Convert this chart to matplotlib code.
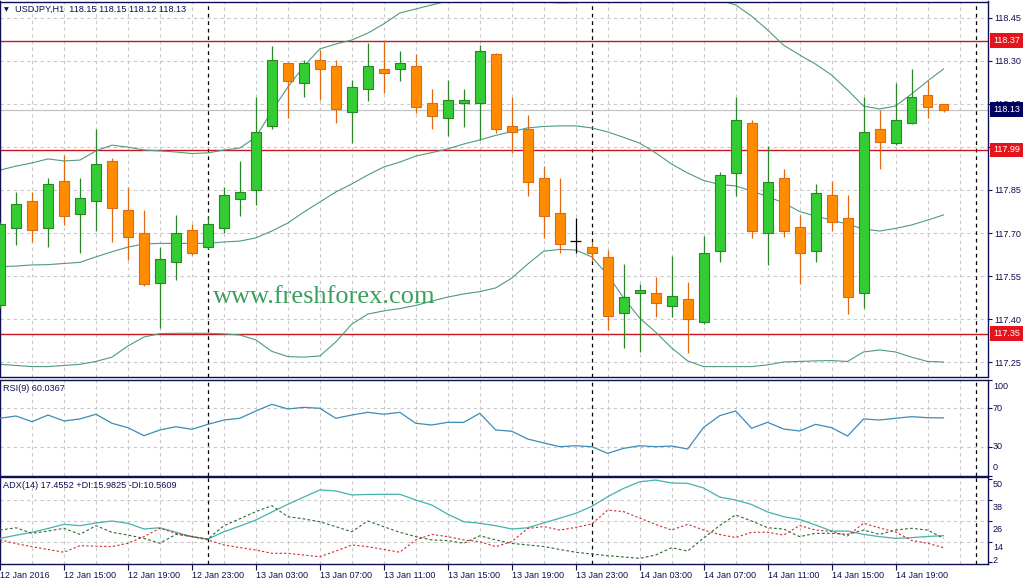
import numpy as np
import matplotlib
matplotlib.use("Agg")
import matplotlib.pyplot as plt
import matplotlib.transforms as mtransforms

plt.rcParams["font.family"] = ["Liberation Sans", "DejaVu Sans"]

# ---- data ----
opens = [117.449, 117.719, 117.810, 117.719, 117.881, 117.767, 117.810, 117.951, 117.780, 117.699,
         117.527, 117.600, 117.711, 117.650, 117.719, 117.819, 117.850, 118.072, 118.291, 118.221,
         118.302, 118.281, 118.120, 118.200, 118.270, 118.270, 118.281, 118.152, 118.099, 118.152,
         118.152, 118.323, 118.073, 118.061, 117.890, 117.769, 117.671, 117.650, 117.618, 117.421,
         117.490, 117.490, 117.447, 117.469, 117.389, 117.638, 117.910, 118.082, 117.699, 117.890,
         117.720, 117.638, 117.831, 117.751, 117.490, 118.061, 118.012, 118.082, 118.180, 118.150]
highs = [117.740, 117.842, 117.842, 117.890, 117.972, 117.890, 118.061, 117.960, 117.859, 117.780,
         117.650, 117.763, 117.731, 117.755, 117.859, 117.951, 118.175, 118.351, 118.295, 118.302,
         118.337, 118.302, 118.233, 118.360, 118.372, 118.334, 118.323, 118.200, 118.233, 118.200,
         118.355, 118.325, 118.175, 118.111, 117.933, 117.890, 117.751, 117.670, 117.641, 117.591,
         117.523, 117.548, 117.620, 117.531, 117.690, 117.912, 118.172, 118.093, 118.003, 117.922,
         117.762, 117.870, 117.881, 117.832, 118.175, 118.128, 118.221, 118.270, 118.230, 118.150]
lows = [117.440, 117.658, 117.670, 117.650, 117.728, 117.629, 117.708, 117.670, 117.606, 117.516,
        117.368, 117.536, 117.625, 117.645, 117.699, 117.760, 117.798, 118.062, 118.099, 118.172,
        118.163, 118.082, 118.012, 118.161, 118.188, 118.230, 118.119, 118.061, 118.038, 118.070,
        118.024, 118.049, 117.980, 117.830, 117.682, 117.629, 117.629, 117.603, 117.362, 117.299,
        117.287, 117.409, 117.409, 117.281, 117.385, 117.600, 117.829, 117.682, 117.590, 117.687,
        117.522, 117.600, 117.706, 117.418, 117.440, 117.922, 118.008, 118.078, 118.099, 118.120]
closes = [117.731, 117.800, 117.710, 117.870, 117.760, 117.821, 117.939, 117.788, 117.687, 117.522,
          117.609, 117.699, 117.629, 117.731, 117.831, 117.843, 118.051, 118.302, 118.230, 118.291,
          118.270, 118.131, 118.209, 118.281, 118.258, 118.291, 118.140, 118.108, 118.163, 118.163,
          118.334, 118.061, 118.051, 117.879, 117.760, 117.661, 117.671, 117.629, 117.411, 117.478,
          117.502, 117.457, 117.481, 117.400, 117.629, 117.902, 118.093, 117.708, 117.879, 117.708,
          117.629, 117.840, 117.739, 117.478, 118.051, 118.018, 118.093, 118.172, 118.140, 118.130]

bb_upper = [117.919, 117.933, 117.944, 117.958, 117.951, 117.954, 117.986, 118.006, 117.999, 117.989,
            117.986, 117.982, 117.977, 117.979, 117.989, 117.996, 118.034, 118.125, 118.208, 118.281,
            118.341, 118.358, 118.372, 118.396, 118.428, 118.466, 118.480, 118.494, 118.508, 118.532,
            118.546, 118.570, 118.563, 118.539, 118.504, 118.501, 118.502, 118.518, 118.549, 118.591,
            118.623, 118.602, 118.581, 118.563, 118.532, 118.511, 118.494, 118.455, 118.407, 118.354,
            118.320, 118.288, 118.250, 118.198, 118.142, 118.132, 118.142, 118.184, 118.229, 118.271]
bb_mid = [117.583, 117.585, 117.589, 117.590, 117.594, 117.598, 117.617, 117.635, 117.651, 117.662,
          117.664, 117.664, 117.664, 117.664, 117.669, 117.672, 117.683, 117.707, 117.735, 117.773,
          117.808, 117.843, 117.871, 117.902, 117.930, 117.947, 117.968, 117.980, 117.993, 118.010,
          118.024, 118.040, 118.053, 118.066, 118.071, 118.073, 118.073, 118.066, 118.052, 118.033,
          118.013, 117.979, 117.940, 117.909, 117.883, 117.869, 117.864, 117.846, 117.827, 117.805,
          117.775, 117.759, 117.745, 117.731, 117.714, 117.707, 117.716, 117.728, 117.745, 117.763]
bb_lower = [117.243, 117.239, 117.235, 117.235, 117.239, 117.243, 117.253, 117.268, 117.307, 117.338,
            117.350, 117.351, 117.351, 117.351, 117.349, 117.345, 117.328, 117.288, 117.270, 117.268,
            117.272, 117.321, 117.383, 117.418, 117.429, 117.437, 117.448, 117.463, 117.477, 117.488,
            117.496, 117.509, 117.543, 117.592, 117.637, 117.643, 117.641, 117.617, 117.554, 117.474,
            117.404, 117.355, 117.300, 117.255, 117.235, 117.235, 117.235, 117.235, 117.241, 117.251,
            117.253, 117.255, 117.256, 117.253, 117.286, 117.293, 117.286, 117.268, 117.253, 117.251]

rsi = [59.6, 62.0, 56.0, 63.0, 56.8, 58.9, 63.8, 54.4, 49.8, 41.5,
       47.4, 50.8, 48.1, 53.3, 57.8, 59.6, 67.2, 74.2, 69.3, 71.0,
       70.0, 59.6, 63.0, 65.8, 63.8, 65.8, 54.4, 52.6, 55.4, 55.4,
       64.8, 47.4, 46.1, 38.0, 33.9, 30.0, 31.0, 30.0, 23.1, 28.3,
       31.0, 30.0, 30.7, 27.6, 50.2, 62.3, 67.2, 49.2, 55.4, 48.4,
       46.4, 53.3, 49.8, 41.1, 58.9, 57.8, 59.6, 61.3, 60.2, 60.04]

adx = [15.9, 17.7, 19.4, 21.6, 24.0, 23.2, 24.8, 25.9, 24.6, 21.3,
       22.0, 19.4, 16.9, 15.5, 19.7, 23.0, 26.5, 31.1, 35.5, 39.7,
       43.8, 43.2, 40.9, 41.2, 41.3, 41.3, 38.0, 35.1, 29.8, 25.5,
       24.6, 23.2, 21.3, 22.0, 24.8, 27.5, 30.3, 34.3, 39.9, 44.7,
       48.5, 49.5, 47.8, 47.6, 44.9, 39.7, 38.0, 35.4, 31.1, 28.4,
       26.8, 23.6, 20.1, 20.1, 18.2, 16.9, 15.9, 16.3, 17.0, 17.46]
plus_di = [20.7, 22.0, 18.8, 20.1, 21.7, 18.2, 23.2, 19.4, 17.8, 15.9,
           13.1, 18.2, 16.9, 15.5, 23.2, 27.2, 31.3, 34.7, 28.4, 27.1,
           25.5, 22.6, 19.7, 25.9, 22.6, 19.4, 16.9, 15.0, 14.6, 13.1,
           17.4, 15.0, 13.0, 12.1, 11.2, 9.5, 7.9, 6.9, 5.9, 5.2,
           4.4, 6.3, 10.5, 8.6, 16.1, 23.3, 29.4, 25.9, 22.0, 21.3,
           16.9, 18.8, 18.8, 18.2, 20.7, 18.2, 20.7, 21.7, 20.7, 15.98]
minus_di = [15.0, 12.9, 11.1, 9.5, 7.9, 11.7, 11.4, 11.1, 13.1, 16.9,
            21.7, 18.8, 16.9, 15.0, 12.1, 10.6, 9.2, 7.3, 7.3, 6.3,
            5.3, 8.6, 12.1, 11.1, 9.5, 7.9, 15.0, 18.2, 16.9, 15.0,
            14.0, 11.1, 14.0, 21.6, 22.7, 20.7, 22.2, 24.2, 32.2, 31.3,
            27.6, 23.9, 20.7, 24.0, 20.7, 18.1, 16.4, 19.4, 19.4, 17.8,
            23.3, 20.7, 19.9, 17.3, 24.6, 21.9, 19.6, 14.7, 13.1, 10.56]

time_label_bars = [0, 4, 8, 12, 16, 20, 24, 28, 32, 36, 40, 44, 48, 52, 56]
time_labels = ["12 Jan 2016", "12 Jan 15:00", "12 Jan 19:00", "12 Jan 23:00",
               "13 Jan 03:00", "13 Jan 07:00", "13 Jan 11:00", "13 Jan 15:00",
               "13 Jan 19:00", "13 Jan 23:00", "14 Jan 03:00", "14 Jan 07:00",
               "14 Jan 11:00", "14 Jan 15:00", "14 Jan 19:00"]
day_separators = [13, 37, 61]
price_ticks = [117.25, 117.40, 117.55, 117.70, 117.85, 118.00, 118.15, 118.30, 118.45]
red_levels = [118.37, 117.99, 117.35]
last_price = 118.13
rsi_levels = [30, 70]
rsi_ticks = [0, 30, 70, 100]
adx_ticks = [2, 14, 26, 38, 50]

# ---- styling ----
NAVY = "#0e0e52"
GRID = "#c9c9c9"
BAND = "#4f9a80"
UP_FILL, UP_EDGE = "#33cc33", "#2a862a"
DN_FILL, DN_EDGE = "#ff8c00", "#dd6a10"
W, H = 1029, 585
RIGHT = 987.5


def box(top, bottom):
    return [0, 1 - bottom / H, RIGHT / W, (bottom - top) / H]


fig = plt.figure(figsize=(W / 100, H / 100), dpi=100)
ax = fig.add_axes(box(1.5, 376.5))
ax_rsi = fig.add_axes(box(379.5, 475.5), sharex=ax)
ax_adx = fig.add_axes(box(477.0, 563.5), sharex=ax)

x = np.arange(len(closes))
o, h, l, c = map(np.array, (opens, highs, lows, closes))

for a in (ax, ax_rsi, ax_adx):
    for s in a.spines.values():
        s.set_color(NAVY)
        s.set_linewidth(1.0)
    for gx in range(2, 62, 2):
        a.axvline(gx, color=GRID, lw=0.8, ls=(0, (3, 3)), zorder=0)
    for sx in day_separators:
        a.axvline(sx, color="black", lw=0.9, ls=(0, (3, 3)), zorder=1)
    a.yaxis.tick_right()
    a.tick_params(axis="y", length=3, width=0.8, color=NAVY, labelcolor=NAVY,
                  labelsize=6.5, pad=2)
    a.tick_params(axis="x", length=0, labelbottom=False)

ax.set_xlim(0.5 / 16, 988 / 16)

# ---- main price panel ----
ax.set_ylim(117.2006, 118.506)
ax.set_yticks(price_ticks, labels=[f"{p:.2f}" for p in price_ticks])
for p in price_ticks:
    ax.axhline(p, color=GRID, lw=0.8, ls=(0, (3, 3)), zorder=0)
ax.axhline(last_price, color="#c4c4c4", lw=0.9, zorder=0.5)
for p in red_levels:
    ax.axhline(p, color="#c8161e", lw=1.0, zorder=1)

ax.plot(x, bb_upper, color=BAND, lw=0.8, zorder=2)
ax.plot(x, bb_mid, color=BAND, lw=0.8, zorder=2)
ax.plot(x, bb_lower, color=BAND, lw=0.8, zorder=2)

up, dn, dj = c > o, c < o, c == o
ax.vlines(x[up], l[up], h[up], color=UP_EDGE, lw=0.9, zorder=3)
ax.vlines(x[dn], l[dn], h[dn], color=DN_EDGE, lw=0.9, zorder=3)
ax.vlines(x[dj], l[dj], h[dj], color="black", lw=0.9, zorder=3)
ax.bar(x[up], (c - o)[up], bottom=o[up], width=0.62, color=UP_FILL,
       edgecolor=UP_EDGE, lw=0.8, zorder=4)
ax.bar(x[dn], (o - c)[dn], bottom=c[dn], width=0.62, color=DN_FILL,
       edgecolor=DN_EDGE, lw=0.8, zorder=4)
ax.hlines(c[dj], x[dj] - 0.34, x[dj] + 0.34, color="black", lw=0.9, zorder=4)

lab = mtransforms.blended_transform_factory(ax.transAxes, ax.transData)
for p in red_levels:
    ax.text(993 / RIGHT, p, f"{p:.2f}", transform=lab, va="center", ha="left",
            fontsize=6.5, color="white", zorder=10, clip_on=False,
            bbox=dict(boxstyle="square,pad=0.3", fc="#e3141c", ec="none"))
ax.text(993 / RIGHT, last_price, f"{last_price:.2f}", transform=lab, va="center",
        ha="left", fontsize=6.5, color="white", zorder=10, clip_on=False,
        bbox=dict(boxstyle="square,pad=0.3", fc="#00005e", ec="none"))

ax.text(4 / RIGHT, 0.979, "\u25bc", transform=ax.transAxes, fontsize=4.5,
        color=NAVY, va="center", ha="left", family="DejaVu Sans")
ax.text(15 / RIGHT, 0.979, "USDJPY,H1  118.15 118.15 118.12 118.13",
        transform=ax.transAxes, fontsize=6.6, color=NAVY, va="center", ha="left")
ax.text(213 / RIGHT, 0.196, "www.freshforex.com", transform=ax.transAxes,
        fontsize=19, color="#3c9f5c", family="Liberation Serif",
        va="baseline", ha="left", zorder=5)

# ---- RSI panel ----
ax_rsi.set_ylim(0, 100)
ax_rsi.set_yticks(rsi_ticks, labels=[""] * len(rsi_ticks))
for lv in rsi_levels:
    ax_rsi.axhline(lv, color=GRID, lw=0.8, ls=(0, (3, 3)), zorder=0)
ax_rsi.plot(x, rsi, color="#3b8cb6", lw=0.9, zorder=3)
rt = mtransforms.blended_transform_factory(ax_rsi.transAxes, ax_rsi.transData)
for v, s in zip([92.5, 70, 30, 8.5], ["100", "70", "30", "0"]):
    ax_rsi.text(993 / RIGHT, v, s, transform=rt, fontsize=6.5, color=NAVY,
                va="center", ha="left", clip_on=False)
ax_rsi.text(3 / RIGHT, 0.908, "RSI(9) 60.0367", transform=ax_rsi.transAxes,
            fontsize=6.6, color=NAVY, va="center", ha="left")

# ---- ADX panel ----
ax_adx.set_ylim(1.42, 51.25)
ax_adx.set_yticks(adx_ticks, labels=[""] * len(adx_ticks))
for g in adx_ticks[1:4]:
    ax_adx.axhline(g, color=GRID, lw=0.8, ls=(0, (3, 3)), zorder=0)
ax_adx.plot(x, adx, color="#45b2ac", lw=0.9, zorder=3)
ax_adx.plot(x, plus_di, color="#2f6b2f", lw=0.8, ls=(0, (2.5, 2)), zorder=3)
ax_adx.plot(x, minus_di, color="#d02a2a", lw=0.8, ls=(0, (2, 2)), zorder=3)
at = mtransforms.blended_transform_factory(ax_adx.transAxes, ax_adx.transData)
for v, s in zip([47.2, 33.7, 21.0, 10.6, 3.4], ["50", "38", "26", "14", "2"]):
    ax_adx.text(993 / RIGHT, v, s, transform=at, fontsize=6.5, color=NAVY,
                va="center", ha="left", clip_on=False)
ax_adx.text(3 / RIGHT, 0.9075, "ADX(14) 17.4552 +DI:15.9825 -DI:10.5609",
            transform=ax_adx.transAxes, fontsize=6.6, color=NAVY, va="center", ha="left")

ax_adx.set_xticks(time_label_bars, labels=time_labels)
ax_adx.tick_params(axis="x", length=4, width=0.8, color=NAVY, labelcolor=NAVY,
                   labelsize=6.5, pad=1.5, labelbottom=True)
plt.setp(ax_adx.get_xticklabels(), ha="left")

fig.savefig("out.png", dpi=100)
plt.close(fig)
